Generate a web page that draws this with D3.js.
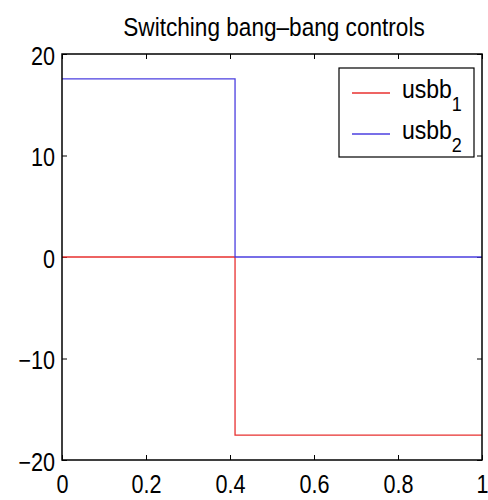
<!DOCTYPE html>
<html><head><meta charset="utf-8">
<script src="https://cdn.jsdelivr.net/npm/d3@7"></script>
<style>body{margin:0;background:#fff}svg{display:block}text{font-family:"Liberation Sans",Arial,sans-serif}</style>
</head><body><svg id="c" width="488" height="500"></svg>
<script>
const times = [0, 0.412, 1];
const usbb1 = [0, -17.54, -17.54];
const usbb2 = [17.54, 0, 0];
const xTicks = [0, 0.2, 0.4, 0.6, 0.8, 1];
const yTicks = [-20, -10, 0, 10, 20];
const seriesNames = ["usbb", "usbb"];
const seriesSubs = ["1", "2"];
const seriesColors = ["#e8302f", "#4b3fe0"];
const title = "Switching bang\u2013bang controls";

const svg = d3.select("#c");
const L = 62, R = 482, T = 54, B = 460;
const x = d3.scaleLinear().domain([0, 1]).range([L, R]);
const y = d3.scaleLinear().domain([-20, 20]).range([B, T]);

const fmt = d => String(d);
const yfmt = d => d < 0 ? "\u2212" + Math.abs(d) : String(d);
const SY = 1.16, FS = 21.6;

const tk = 5;
svg.append("g").attr("transform", `translate(0,${B})`)
  .call(d3.axisBottom(x).tickValues(xTicks).tickSize(-tk).tickFormat(fmt))
  .call(g => { g.select(".domain").remove();
    g.selectAll("text").attr("font-size", FS).attr("fill","#000").attr("y", 0).attr("dy", 0)
      .attr("transform", `translate(0,33) scale(1,${SY})`);
    g.selectAll("line").attr("stroke","#000"); });
svg.append("g").attr("transform", `translate(0,${T})`)
  .call(d3.axisTop(x).tickValues(xTicks).tickSize(-tk).tickFormat(""))
  .call(g => { g.select(".domain").remove(); g.selectAll("line").attr("stroke","#000"); });
svg.append("g").attr("transform", `translate(${L},0)`)
  .call(d3.axisLeft(y).tickValues(yTicks).tickSize(-tk).tickFormat(yfmt))
  .call(g => { g.select(".domain").remove();
    g.selectAll("text").attr("font-size", FS).attr("fill","#000").attr("x", 0).attr("dy", 0)
      .attr("transform", `translate(-7,10) scale(1,${SY})`);
    g.selectAll("line").attr("stroke","#000"); });
svg.append("g").attr("transform", `translate(${R},0)`)
  .call(d3.axisRight(y).tickValues(yTicks).tickSize(-tk).tickFormat(""))
  .call(g => { g.select(".domain").remove(); g.selectAll("line").attr("stroke","#000"); });

const line = d3.line().curve(d3.curveStepAfter).x(d => x(d[0])).y(d => y(d[1]));
[usbb1, usbb2].forEach((vals, i) => {
  svg.append("path").datum(times.map((t, j) => [t, vals[j]]))
    .attr("d", line).attr("fill", "none").attr("stroke", seriesColors[i]).attr("stroke-width", 1.3);
});

svg.append("rect").attr("x", L).attr("y", T).attr("width", R - L).attr("height", B - T)
  .attr("fill", "none").attr("stroke", "#000").attr("stroke-width", 1.5);

svg.append("text").attr("text-anchor", "middle")
  .attr("transform", `translate(274,36) scale(1,1.15)`)
  .attr("font-size", 22.6).attr("fill", "#000").text(title);

const lg = svg.append("g");
lg.append("rect").attr("x", 339).attr("y", 68).attr("width", 135).attr("height", 89)
  .attr("fill", "#fff").attr("stroke", "#000").attr("stroke-width", 1.2);
seriesNames.forEach((n, i) => {
  const yy = 93 + i * 41;
  lg.append("line").attr("x1", 352).attr("x2", 390).attr("y1", yy).attr("y2", yy)
    .attr("stroke", seriesColors[i]).attr("stroke-width", 1.3);
  const t = lg.append("text").attr("transform", `translate(402,${yy + 5}) scale(1,${SY})`)
    .attr("font-size", 23).attr("fill", "#000");
  t.append("tspan").text(n);
  t.append("tspan").attr("dy", 11).attr("font-size", 18).text(seriesSubs[i]);
});
</script></body></html>
